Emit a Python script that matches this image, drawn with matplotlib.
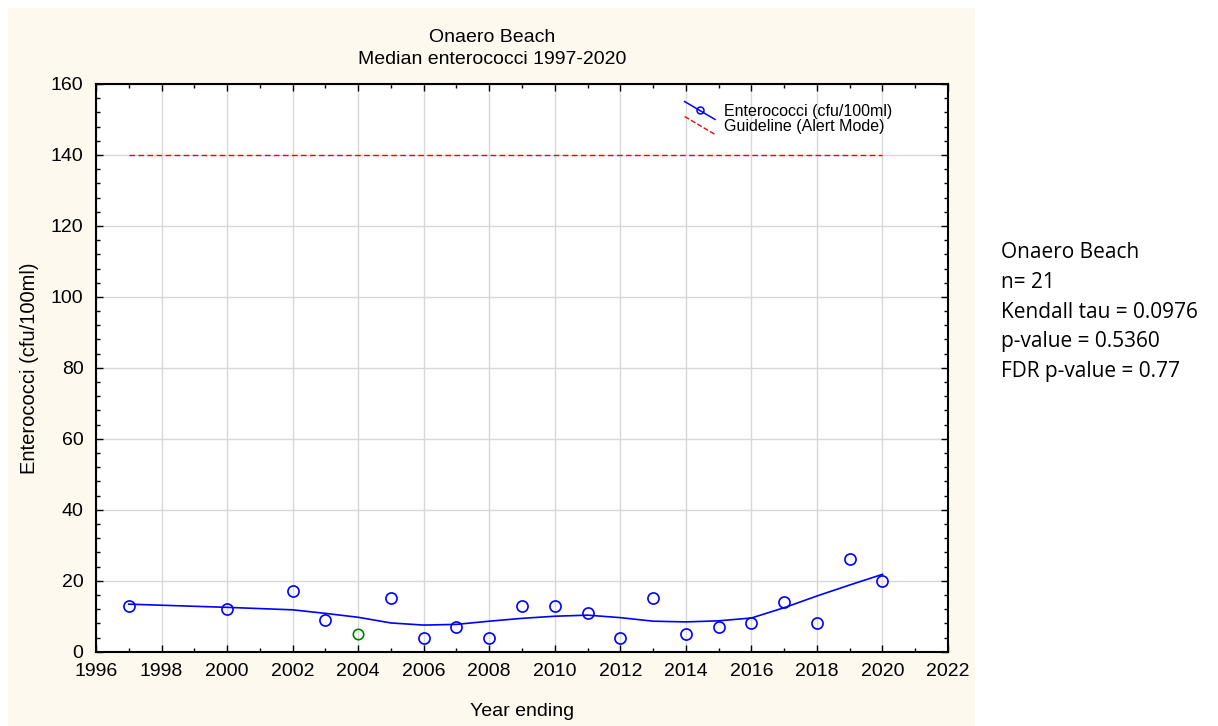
import numpy as np
import matplotlib.pyplot as plt
from matplotlib.patches import Rectangle
from matplotlib.lines import Line2D
from matplotlib.legend_handler import HandlerBase
from matplotlib.ticker import MultipleLocator

# data
years = [1997, 2000, 2002, 2003, 2004, 2005, 2006, 2007, 2008, 2009, 2010,
         2011, 2012, 2013, 2014, 2015, 2016, 2017, 2018, 2019, 2020]
entero = [13, 12, 17, 9, 5, 15, 4, 7, 4, 13, 13,
          11, 4, 15, 5, 7, 8, 14, 8, 26, 20]
highlight_year = 2004  # drawn green

# smoothed fit
fit_years = [1997, 2000, 2002, 2003, 2004, 2005, 2006, 2007, 2008, 2009, 2010,
             2011, 2012, 2013, 2014, 2015, 2016, 2017, 2018, 2019, 2020]
fit_vals = [13.4, 12.5, 11.8, 10.8, 9.7, 8.1, 7.5, 7.7, 8.6, 9.4, 10.0,
            10.3, 9.6, 8.6, 8.4, 8.7, 9.5, 12.4, 15.7, 18.8, 21.8]

guide_years = [1997, 2020]
guide_vals = [140, 140]

stats_lines = ["Onaero Beach", "n= 21", "Kendall tau = 0.0976",
               "p-value = 0.5360", "FDR p-value = 0.77"]

plt.rcParams['font.family'] = ['Liberation Sans', 'DejaVu Sans']


class DiagHandler(HandlerBase):
    # legend sample drawn as a falling diagonal, like the original
    def create_artists(self, legend, orig, xd, yd, w, h, fs, trans):
        ln = Line2D([-xd, -xd + w], [-yd + h * 1.3, -yd - h * 0.3],
                    color=orig.get_color(), ls=orig.get_linestyle(),
                    lw=orig.get_linewidth())
        ln.set_transform(trans)
        out = [ln]
        if orig.get_marker() not in (None, 'None', ''):
            mk = Line2D([-xd + w / 2], [-yd + h / 2], marker='o', ls='none',
                        mfc='none', mec=orig.get_color(), ms=5, mew=1.1)
            mk.set_transform(trans)
            out.append(mk)
        return out


fig = plt.figure(figsize=(12.18, 7.26), dpi=100)
fig.patch.set_facecolor('white')
fig.patches.append(Rectangle((8 / 1218, 0), (975 - 8) / 1218, (726 - 8) / 726,
                             transform=fig.transFigure, facecolor='#fdf9ee',
                             edgecolor='none', zorder=-10))

ax = fig.add_axes([96 / 1218, 74.3 / 726, (948 - 96) / 1218, (651.7 - 84) / 726])
ax.set_facecolor('white')

ax.plot(fit_years, fit_vals, color='#0000ff', lw=1.2, zorder=3)
yrs = np.array(years)
vals = np.array(entero)
mask = yrs != highlight_year
ax.plot(yrs[mask], vals[mask], 'o', mfc='none', mec='#0000ff', ms=8, mew=1.2,
        zorder=4)
ax.plot(yrs[~mask], vals[~mask], 'o', mfc='none', mec='#008000', ms=7.5,
        mew=1.2, zorder=4)
ax.plot(guide_years, guide_vals, color='#ff0000', ls=(0, (4, 2.5)), lw=1.0,
        zorder=3)

# legend handles
h1 = Line2D([], [], color='#0000ff', marker='o', lw=1.1)
h2 = Line2D([], [], color='#ff0000', ls=(0, (4, 2.5)), lw=1.0)
leg = ax.legend([h1, h2], ['Enterococci (cfu/100ml)', 'Guideline (Alert Mode)'],
                loc='upper left', bbox_to_anchor=(0.674, 0.99), frameon=False,
                fontsize=11.5, handlelength=1.9, handletextpad=0.55,
                labelspacing=0.0, borderpad=0.4,
                handler_map={Line2D: DiagHandler()})

ax.set_xlim(1996, 2022)
ax.set_ylim(0, 160)
ax.xaxis.set_major_locator(MultipleLocator(2))
ax.xaxis.set_minor_locator(MultipleLocator(1))
ax.yaxis.set_major_locator(MultipleLocator(20))
ax.yaxis.set_minor_locator(MultipleLocator(4))
ax.tick_params(which='both', direction='in', top=True, right=True,
               labelsize=14, color='black')
ax.tick_params(which='major', length=5, width=1)
ax.tick_params(which='minor', length=3, width=1)
ax.tick_params(axis='x', pad=8)
ax.tick_params(axis='y', pad=9)
ax.grid(True, which='major', color='#d8d8d8', lw=1)
ax.set_axisbelow(True)
for sp in ax.spines.values():
    sp.set_linewidth(1.5)
    sp.set_color('black')

fig.text(492 / 1218, 1 - 37 / 726, 'Onaero Beach', ha='center', va='center',
         fontsize=14)
fig.text(492 / 1218, 1 - 60 / 726, 'Median enterococci 1997-2020',
         ha='center', va='center', fontsize=14)
fig.text(522 / 1218, 1 - 711 / 726, 'Year ending', ha='center', va='center',
         fontsize=14)
fig.text(30 / 1218, 1 - 368 / 726, 'Enterococci (cfu/100ml)', ha='center',
         va='center', rotation=90, fontsize=14.5)

for i, s in enumerate(stats_lines):
    fig.text(1001 / 1218, 1 - (253 + i * 29.5) / 726, s, ha='left',
             va='center', fontsize=15, family=['Open Sans', 'DejaVu Sans'])

fig.savefig('out.png', dpi=100)
